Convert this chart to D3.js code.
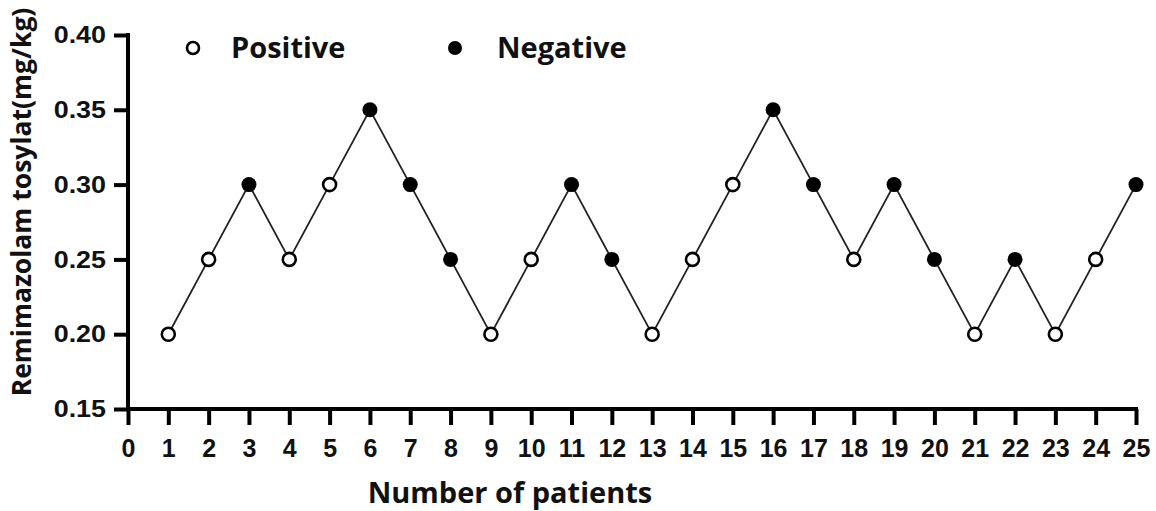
<!DOCTYPE html>
<html><head><meta charset="utf-8">
<script src="https://cdn.jsdelivr.net/npm/d3@7"></script>
<style>body{margin:0;background:#fff}</style>
</head><body>
<svg id="c" width="1156" height="511"></svg>
<script>
const patients = [1,2,3,4,5,6,7,8,9,10,11,12,13,14,15,16,17,18,19,20,21,22,23,24,25];
const doses = [0.20,0.25,0.30,0.25,0.30,0.35,0.30,0.25,0.20,0.25,0.30,0.25,0.20,0.25,0.30,0.35,0.30,0.25,0.30,0.25,0.20,0.25,0.20,0.25,0.30];
const outcomes = ["P","P","N","P","P","N","N","N","P","P","N","N","P","P","P","N","N","P","N","N","P","N","P","P","N"];
const xTicks = d3.range(0,26);
const yTicks = [0.15,0.20,0.25,0.30,0.35,0.40];
const legendLabels = ["Positive","Negative"];

const svg = d3.select("#c");
const x = d3.scaleLinear().domain([0,25]).range([128,1136]);
const y = d3.scaleLinear().domain([0.15,0.40]).range([409,35]);
const data = patients.map((p,i)=>({p, v:doses[i], o:outcomes[i]}));

// axes
const yAx = svg.append("g").attr("transform","translate(128,0)")
  .call(d3.axisLeft(y).tickValues(yTicks).tickFormat(d3.format(".2f")).tickSize(14).tickPadding(8));
const xAx = svg.append("g").attr("transform","translate(0,409)")
  .call(d3.axisBottom(x).tickValues(xTicks).tickFormat(d3.format("d")).tickSize(16).tickPadding(14));
[yAx,xAx].forEach(g=>{
  g.select(".domain").attr("stroke","#000").attr("stroke-width",4);
  g.selectAll(".tick line").attr("stroke","#000").attr("stroke-width",4);
  g.selectAll(".tick text").attr("fill","#111").attr("font-family","Liberation Sans, Arial, sans-serif")
   .attr("font-weight","bold");
});
xAx.selectAll(".tick text").attr("font-size",25);
yAx.selectAll(".tick text").attr("font-size",24).attr("x",-22/1.12).attr("transform","scale(1.12,1)");
yAx.select(".domain").attr("d","M0,"+(y(0.40)-2)+"V"+(y(0.15)+2));
xAx.select(".domain").attr("d","M"+(x(0)-2)+",0H"+(x(25)+2));

// line
svg.append("path").datum(data)
  .attr("d", d3.line().x(d=>x(d.p)).y(d=>y(d.v)))
  .attr("fill","none").attr("stroke","#222").attr("stroke-width",1.8);

// markers
svg.selectAll("circle.pt").data(data).join("circle").attr("class","pt")
  .attr("cx",d=>x(d.p)).attr("cy",d=>y(d.v))
  .attr("r",d=>d.o==="P"?6.5:7.5)
  .attr("fill",d=>d.o==="P"?"#fff":"#000")
  .attr("stroke","#000").attr("stroke-width",d=>d.o==="P"?2.6:0);

// legend
const lg = [{k:"P",cx:193,tx:231,label:legendLabels[0]},{k:"N",cx:455,tx:497,label:legendLabels[1]}];
lg.forEach(l=>{
  svg.append("circle").attr("cx",l.cx).attr("cy",48)
    .attr("r",l.k==="P"?6:7).attr("fill",l.k==="P"?"#fff":"#000")
    .attr("stroke","#000").attr("stroke-width",l.k==="P"?2.6:0);
  svg.append("text").attr("x",l.tx).attr("y",58).text(l.label)
    .attr("font-family","Open Sans, sans-serif").attr("font-weight","bold").attr("font-size",29).attr("fill","#111");
});

// titles
svg.append("text").attr("transform","translate(31,202) rotate(-90)").attr("text-anchor","middle")
  .text("Remimazolam tosylat(mg/kg)")
  .attr("font-family","Open Sans, sans-serif").attr("font-weight","bold").attr("font-size",26.5).attr("fill","#111");
svg.append("text").attr("x",510).attr("y",503).attr("text-anchor","middle")
  .text("Number of patients")
  .attr("font-family","Open Sans, sans-serif").attr("font-weight","bold").attr("font-size",29).attr("fill","#111");
</script>
</body></html>
